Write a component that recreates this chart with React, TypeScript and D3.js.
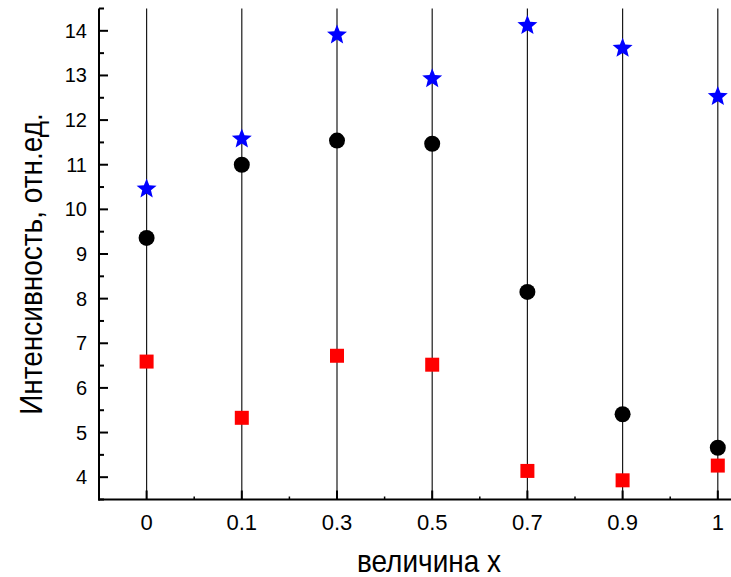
import React from "react";
import * as d3 from "d3";

const categories = ["0", "0.1", "0.3", "0.5", "0.7", "0.9", "1"];
const starValues = [10.48, 11.6, 13.93, 12.95, 14.14, 13.63, 12.55];
const circleValues = [9.36, 11.0, 11.54, 11.47, 8.15, 5.41, 4.66];
const squareValues = [6.59, 5.33, 6.72, 6.52, 4.14, 3.93, 4.26];
const yTicks = [4, 5, 6, 7, 8, 9, 10, 11, 12, 13, 14];
const yMinorTicks = [3.5, 4.5, 5.5, 6.5, 7.5, 8.5, 9.5, 10.5, 11.5, 12.5, 13.5, 14.5];

const W = 731;
const H = 577;
const FONT = "'Liberation Sans', Arial, sans-serif";

function starPath(outer: number, inner: number): string {
  const pts: [number, number][] = [];
  for (let k = 0; k < 10; k++) {
    const r = k % 2 === 0 ? outer : inner;
    const a = (k * Math.PI) / 5 - Math.PI / 2;
    pts.push([r * Math.cos(a), r * Math.sin(a)]);
  }
  return (d3.line()(pts) as string) + "Z";
}

export default function App() {
  const x = d3.scaleLinear().domain([-0.5, 6.5]).range([99, 99 + 7 * 95.2]);
  const y = d3.scaleLinear().domain([3.5, 14.5]).range([499.5, 8.5]);
  const xAxisY = y(3.5);
  const xAxisLeft = x(-0.5);
  const star = starPath(10.5, 4.6);
  const circle = d3.symbol().type(d3.symbolCircle).size(201)();
  const square = d3.symbol().type(d3.symbolSquare).size(196)();
  const minorX = categories.map((_, i) => i + 0.5);

  return (
    <svg width={W} height={H} style={{ position: "absolute", left: 0, top: 0, background: "#fff" }}>
      <rect width={W} height={H} fill="#fff" />
      {/* drop lines */}
      {categories.map((c, i) => (
        <line key={"d" + c} x1={x(i)} x2={x(i)} y1={y(14.5)} y2={xAxisY} stroke="#1a1a1a" strokeWidth={1.2} />
      ))}
      {/* bottom axis */}
      <line x1={xAxisLeft - 1} x2={W} y1={xAxisY} y2={xAxisY} stroke="#000" strokeWidth={2} />
      {categories.map((c, i) => (
        <line key={"xt" + c} x1={x(i)} x2={x(i)} y1={xAxisY} y2={xAxisY - 9} stroke="#000" strokeWidth={2} />
      ))}
      {minorX.map((v) => (
        <line key={"xm" + v} x1={x(v)} x2={x(v)} y1={xAxisY} y2={xAxisY - 3} stroke="#000" strokeWidth={1.5} />
      ))}
      {categories.map((c, i) => (
        <text key={"xl" + c} x={x(i)} y={530} textAnchor="middle" fontFamily={FONT} fontSize={22} fill="#000">
          {c}
        </text>
      ))}
      {/* left axis */}
      <line x1={xAxisLeft} x2={xAxisLeft} y1={y(14.5)} y2={xAxisY + 1} stroke="#000" strokeWidth={2} />
      {yTicks.map((t) => (
        <line key={"yt" + t} x1={xAxisLeft} x2={xAxisLeft + 9} y1={y(t)} y2={y(t)} stroke="#000" strokeWidth={2} />
      ))}
      {yMinorTicks.map((t) => (
        <line key={"ym" + t} x1={xAxisLeft} x2={xAxisLeft + 5} y1={y(t)} y2={y(t)} stroke="#000" strokeWidth={2} />
      ))}
      {yTicks.map((t) => (
        <text key={"yl" + t} x={87} y={y(t)} dy="0.35em" textAnchor="end" fontFamily={FONT} fontSize={20} fill="#000">
          {t}
        </text>
      ))}
      {/* titles */}
      <text
        transform="translate(429,572) scale(1,1.12)"
        textAnchor="middle"
        fontFamily={FONT}
        fontSize={28}
        fill="#000"
      >
        величина x
      </text>
      <text
        transform="translate(42,264) rotate(-90) scale(1,1.12)"
        textAnchor="middle"
        fontFamily={FONT}
        fontSize={28}
        fill="#000"
      >
        Интенсивность, отн.ед.
      </text>
      {/* markers */}
      {squareValues.map((v, i) => (
        <path key={"s" + i} d={square} transform={`translate(${x(i)},${y(v)})`} fill="#ff0000" />
      ))}
      {circleValues.map((v, i) => (
        <path key={"c" + i} d={circle} transform={`translate(${x(i)},${y(v)})`} fill="#000" />
      ))}
      {starValues.map((v, i) => (
        <path key={"st" + i} d={star} transform={`translate(${x(i)},${y(v) + 1})`} fill="#0000ff" />
      ))}
    </svg>
  );
}
